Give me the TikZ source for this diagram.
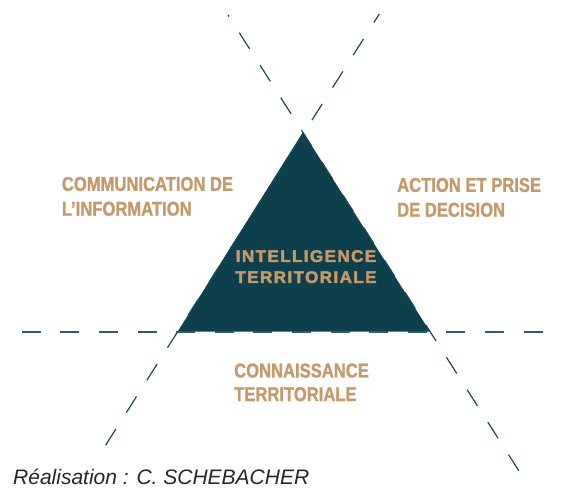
\documentclass[tikz,border=0pt]{standalone}
\usepackage{fontspec}
\setmainfont{Liberation Sans}
\newfontfamily\lblfont{Liberation Sans}[FakeStretch=0.83,FakeBold=1.2]
\newfontfamily\ctrfont{Liberation Sans}[FakeStretch=1.02,LetterSpace=8,FakeBold=2.5]
\definecolor{tealfill}{HTML}{0E3F4C}
\definecolor{tealline}{HTML}{1A4A56}
\definecolor{tealhline}{HTML}{2F5E6A}
\definecolor{tan}{HTML}{C4996B}
\definecolor{credit}{HTML}{262626}
\tikzset{
  slantline/.style={draw=tealline, line width=1.2pt, dash pattern=on 19.2pt off 19.3pt},
  hline/.style={draw=tealhline, line width=1.8pt, dash pattern=on 19pt off 19.6pt},
  tri/.style={fill=tealfill, draw=none},
  lbl/.style={inner sep=0pt, text=tan, font=\lblfont\bfseries\fontsize{20}{24.8}\selectfont},
  ctr/.style={inner sep=0pt, text=tan, align=center, font=\ctrfont\bfseries\fontsize{16.8}{21}\selectfont},
  creditstyle/.style={inner sep=0pt, text=credit, font=\itshape\fontsize{21}{24}\selectfont}
}
\begin{document}
\begin{tikzpicture}[x=1pt,y=-1pt]
\useasboundingbox (0,0) rectangle (561,488);
% line end points
\coordinate (LTop) at (228,15);
\coordinate (LBot) at (519,471);
\coordinate (RTop) at (379.3,14);
\coordinate (RBot) at (97.3,458.3);
\coordinate (HL) at (21.7,331.7);
\coordinate (HR) at (543,331.7);
% triangle corners
\coordinate (Apex) at (303,132);
\coordinate (BL) at (177.6,331.7);
\coordinate (BR) at (430,331.7);
\path[tri] (Apex) -- (BR) -- (BL) -- cycle;
% dashed lines
\draw[slantline, dash phase=17.5pt] (LTop) -- (LBot);
\draw[slantline, dash phase=9pt] (RTop) -- (RBot);
\draw[hline] (HL) -- (HR);
% labels
\node[lbl, anchor=north west, align=left] (comm) at (61.7,176.7) {COMMUNICATION DE\\L’INFORMATION};
\node[lbl, anchor=north west, align=left] (action) at (397,177.7) {ACTION ET PRISE\\DE DECISION};
\node[lbl, anchor=north west, align=left, font=\lblfont\bfseries\fontsize{20}{23.6}\selectfont] (conn) at (234,363.3) {CONNAISSANCE\\TERRITORIALE};
\node[ctr, anchor=north] (intel) at (306,250) {INTELLIGENCE\\TERRITORIALE};
\node[creditstyle, anchor=base west] (real) at (13,484) {Réalisation : C. SCHEBACHER};
\end{tikzpicture}
\end{document}
